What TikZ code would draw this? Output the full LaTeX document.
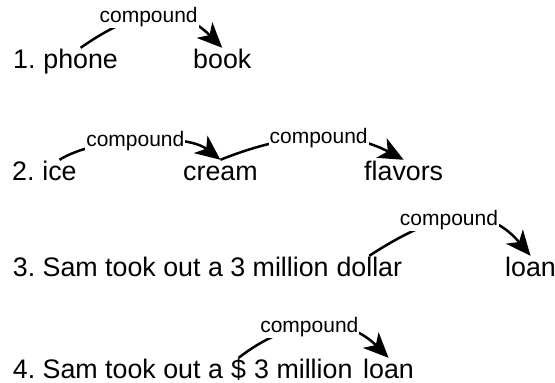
\documentclass[tikz,border=0pt]{standalone}
\usepackage{fontspec}
\setmainfont{Liberation Sans}
\usetikzlibrary{arrows.meta,positioning}

\tikzset{
  word/.style={anchor=base west, inner xsep=0pt, inner ysep=1pt, text height=19pt,
    font=\fontsize{26.8}{30}\selectfont\frenchspacing},
  rel/.style={fill=white, inner sep=1pt, font=\fontsize{21}{24}\selectfont},
  dep/.style={line width=2.5pt, -{Stealth[length=25pt,width=22pt,inset=7pt]}}
}

\begin{document}
\begin{tikzpicture}[x=1pt,y=1pt,node distance=7.4pt]
\useasboundingbox (0,0) rectangle (555,-383);

% 1. phone book
\node[word] (n1) at (13,-68) {1.};
\node[word] (phone) [base right=of n1] {phone};
\node[word] (book) at (193,-68) {book};

\draw[dep] (phone.north) to[out=35,in=135,looseness=1.18] node[rel,pos=.46] (r1) {compound} (book.north);

% 2. ice cream flavors
\node[word] (n2) at (12,-180) {2.};
\node[word] (ice) [base right=of n2] {ice};
\node[word] (cream) at (183,-180) {cream};
\node[word] (flavors) at (364,-180) {flavors};

\draw[dep] (ice.north) to[out=32,in=142,looseness=.7] node[rel,pos=.47] (r2) {compound} (cream.north);
\draw[dep] (cream.north) to[out=22,in=152,looseness=.95] node[rel,pos=.53] (r3) {compound} (flavors.north);

% 3. dollar loan
\node[word] (s3) at (12.7,-276) {3. Sam took out a 3 million};
\node[word] (dollar) [base right=of s3] {dollar};
\node[word] (loan3) at (505,-276) {loan};

\draw[dep] (dollar.north) to[out=33,in=130,looseness=1.18] node[rel,pos=.46] (r4) {compound} (loan3.north);

% 4. $ loan
\node[word] (s4) at (12.7,-378) {4. Sam took out a};
\node[word] (usd) at (231,-378) {\$};
\node[word] (mil) at (254,-378) {3 million};
\node[word] (loan4) at (363,-378) {loan};

\draw[dep] (usd.north) to[out=38,in=135,looseness=1.08] node[rel,pos=.46] (r5) {compound} (loan4.north);
\end{tikzpicture}
\end{document}
